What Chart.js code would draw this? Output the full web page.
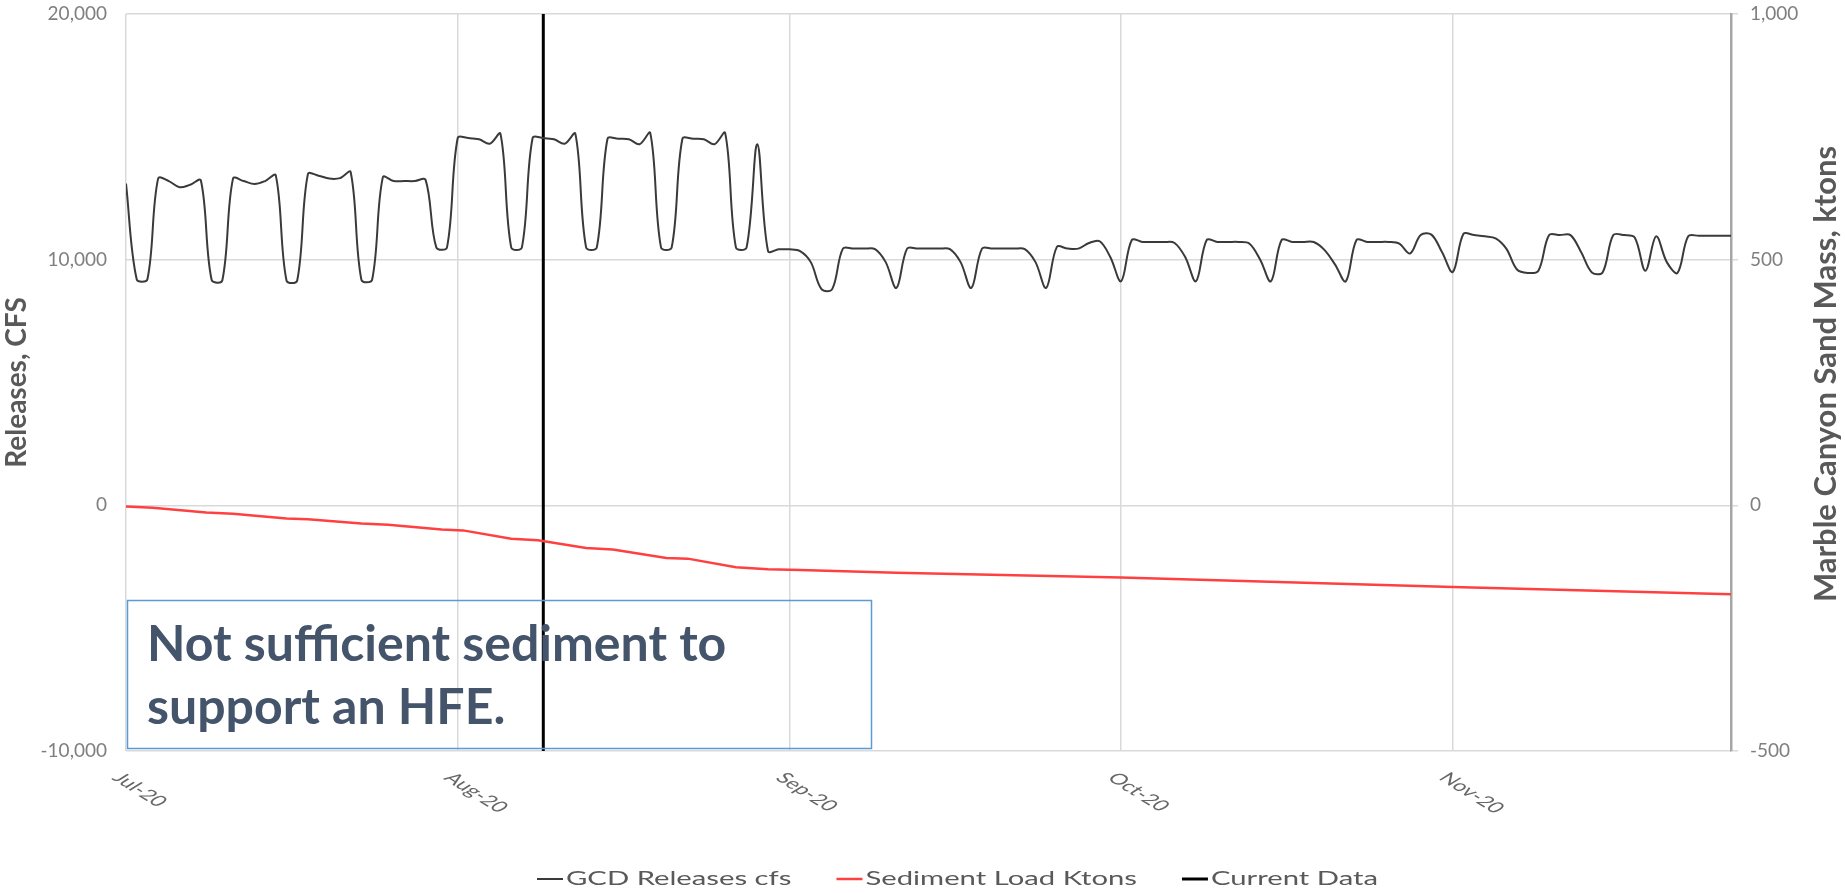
<!DOCTYPE html>
<html lang="en">
<head>
  <meta charset="UTF-8">
  <title>GCD Releases and Marble Canyon Sand Mass</title>
  <script src="https://cdn.jsdelivr.net/npm/chart.js"></script>
  <style>
    html, body { margin: 0; padding: 0; background: #fff; }
    #wrap { width: 1845px; height: 893px; }
  </style>
</head>
<body>
  <div id="wrap">
    <canvas id="releaseChart" width="1845" height="893"></canvas>
  </div>

  <script>
    // day index 0 = Jul 1 2020, month ticks every 31 days like the source axis
    const monthTicks = [0, 31, 62, 93, 124];
    const monthLabels = ['Jul-20', 'Aug-20', 'Sep-20', 'Oct-20', 'Nov-20'];

    // GCD daily releases, cfs
    const releases = [
      13100, 9200, 9200, 13300, 13200, 12950, 13050, 13220, 9180, 9150,
      13300, 13200, 13080, 13200, 13430, 9150, 9150, 13480, 13420, 13300,
      13320, 13560, 9180, 9180, 13350, 13200, 13200, 13200, 13250, 10500,
      10500, 14950, 14950, 14900, 14720, 15120, 10500, 10500, 14950, 14950,
      14900, 14720, 15120, 10500, 10500, 14920, 14920, 14900, 14700, 15150,
      10500, 10500, 14920, 14920, 14900, 14700, 15150, 10500, 10500, 14700,
      10350, 10420, 10420, 10350, 9900, 8800, 8800, 10450, 10450, 10450,
      10430, 9900, 8850, 10450, 10450, 10450, 10450, 10430, 9900, 8850,
      10450, 10450, 10450, 10450, 10430, 9900, 8850, 10520, 10450, 10450,
      10680, 10750, 10100, 9120, 10800, 10720, 10720, 10720, 10680, 10100,
      9120, 10800, 10720, 10720, 10720, 10650, 10000, 9120, 10800, 10720,
      10720, 10720, 10400, 9800, 9120, 10800, 10720, 10720, 10720, 10650,
      10250, 11000, 11020, 10300, 9500, 11050, 11000, 10950, 10870, 10450,
      9600, 9460, 9550, 11000, 11000, 11000, 10300, 9480, 9480, 11000,
      11000, 10900, 9550, 10950, 9900, 9460, 10950, 10970, 10970, 10970,
      10970
    ];

    // sediment load, ktons (right axis)
    const sedimentDays = [0, 2.5, 7.5, 10, 15, 17, 22, 24.5, 29.5, 31.5, 36, 38.5, 43, 45.5, 50.5, 52.5, 57, 60, 63, 72, 93, 124, 150];
    const sedimentKtons = [-2.5, -5, -14.5, -17, -27, -28.5, -37, -39.5, -49, -51, -68, -71, -87, -90, -107, -108.5, -126, -130, -131.5, -137, -147, -166, -181];

    // current data marker
    const currentDay = 39;
    const releaseRange = [-10000, 20000];
    const sandRange = [-500, 1000];

    const noteLines = ['Not sufficient sediment to', 'support an HFE.'];

    const textGray = '#595959';
    const gridGray = '#d9d9d9';

    // y axes: keep the label padding from pushing the plot down
    function fixAxis(width) {
      return s => {
        s.width = width;
        s.paddingTop = 0;
        s.paddingBottom = 0;
      };
    }

    // draws the rotated month labels, right title, legend and the note box
    const extras = {
      id: 'extras',
      afterDraw(chart) {
        const ctx = chart.ctx;
        const area = chart.chartArea;
        const xs = chart.scales.x;

        // month labels (slanted, stretched like the source)
        ctx.save();
        ctx.font = '15px Lato';
        ctx.fillStyle = '#666666';
        ctx.textAlign = 'left';
        ctx.textBaseline = 'top';
        monthTicks.forEach((v, i) => {
          ctx.save();
          ctx.translate(xs.getPixelForValue(v) - 1, area.bottom + 19);
          ctx.scale(1.6, 1);
          ctx.rotate(Math.PI / 4);
          ctx.fillText(monthLabels[i], 0, 0);
          ctx.restore();
        });
        ctx.restore();

        // right axis title reads bottom to top
        ctx.save();
        ctx.font = 'bold 31px Lato';
        ctx.fillStyle = textGray;
        ctx.textAlign = 'center';
        ctx.textBaseline = 'middle';
        ctx.translate(1826, 374);
        ctx.rotate(-Math.PI / 2);
        ctx.fillText('Marble Canyon Sand Mass, ktons', 0, 0);
        ctx.restore();

        // note box
        ctx.save();
        ctx.strokeStyle = '#5b9bd5';
        ctx.lineWidth = 1.5;
        ctx.strokeRect(area.left + 1.5, 600.5, 744, 148);
        ctx.font = 'bold 50px Lato';
        ctx.fillStyle = '#44546a';
        ctx.textBaseline = 'alphabetic';
        ctx.fillText(noteLines[0], 147, 661);
        ctx.fillText(noteLines[1], 147, 724);
        ctx.restore();

        // legend
        ctx.save();
        ctx.font = '19.5px Lato';
        ctx.fillStyle = textGray;
        ctx.textBaseline = 'alphabetic';
        let lx = 537;
        chart.data.datasets.forEach(ds => {
          ctx.strokeStyle = ds.borderColor;
          ctx.lineWidth = ds.borderWidth;
          ctx.beginPath();
          ctx.moveTo(lx, 879);
          ctx.lineTo(lx + 26, 879);
          ctx.stroke();
          ctx.save();
          ctx.translate(lx + 29, 885);
          ctx.scale(1.5, 1);
          ctx.fillText(ds.label, 0, 0);
          ctx.restore();
          lx += 29 + ctx.measureText(ds.label).width * 1.5 + 45;
        });
        ctx.restore();
      }
    };

    function drawChart() {
      const config = {
        type: 'line',
        data: {
          datasets: [
            {
              label: 'GCD Releases cfs',
              data: releases.map((v, i) => ({ x: i, y: v })),
              borderColor: '#3a3a3a',
              borderWidth: 2,
              pointRadius: 0,
              tension: 0.35,
              yAxisID: 'y'
            },
            {
              label: 'Sediment Load Ktons',
              data: sedimentDays.map((d, i) => ({ x: d, y: sedimentKtons[i] })),
              borderColor: '#ff4040',
              borderWidth: 2.5,
              pointRadius: 0,
              tension: 0,
              yAxisID: 'y2'
            },
            {
              label: 'Current Data',
              data: releaseRange.map(v => ({ x: currentDay, y: v })),
              borderColor: '#000000',
              borderWidth: 3,
              pointRadius: 0,
              yAxisID: 'y'
            }
          ]
        },
        options: {
          responsive: false,
          devicePixelRatio: 1,
          animation: false,
          layout: { padding: { top: 14, left: 0, right: 0, bottom: 0 } },
          plugins: {
            legend: { display: false },
            tooltip: { enabled: false }
          },
          scales: {
            x: {
              type: 'linear',
              min: 0,
              max: 150,
              afterBuildTicks: s => { s.ticks = monthTicks.map(v => ({ value: v })); },
              afterFit: s => { s.height = 142; },
              ticks: { display: false },
              grid: { color: gridGray, lineWidth: 1.5, drawTicks: false },
              border: { display: false }
            },
            y: {
              position: 'left',
              min: releaseRange[0],
              max: releaseRange[1],
              afterFit: fixAxis(126),
              ticks: {
                stepSize: 10000,
                padding: 19,
                color: '#7f7f7f',
                font: { family: 'Lato', size: 19 }
              },
              grid: { color: gridGray, lineWidth: 1.5, drawTicks: false },
              border: { display: false },
              title: {
                display: true,
                text: 'Releases, CFS',
                color: textGray,
                padding: 0,
                font: { family: 'Lato', size: 28, weight: 'bold' }
              }
            },
            y2: {
              position: 'right',
              min: sandRange[0],
              max: sandRange[1],
              afterFit: fixAxis(114),
              ticks: {
                stepSize: 500,
                padding: 12,
                color: '#7f7f7f',
                font: { family: 'Lato', size: 19 }
              },
              grid: { drawOnChartArea: false, color: gridGray, lineWidth: 1.5, tickLength: 7 },
              border: { color: '#a6a6a6', width: 2.5 }
            }
          }
        },
        plugins: [extras]
      };
      new Chart(document.getElementById('releaseChart'), config);
    }

    Promise.all([
      document.fonts.load('19px Lato'),
      document.fonts.load('bold 28px Lato')
    ]).then(drawChart, drawChart);
  </script>
</body>
</html>
